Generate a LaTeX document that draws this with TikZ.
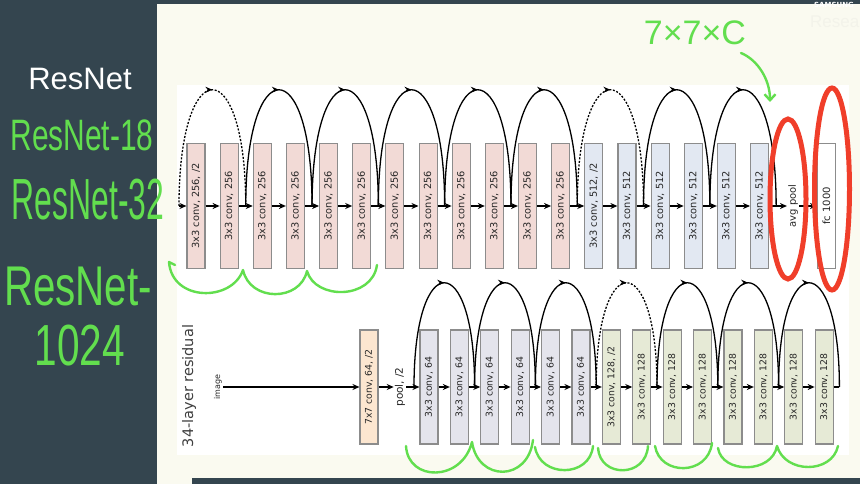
\documentclass[tikz,border=0pt]{standalone}
\usepackage{fontspec}
\setmainfont{DejaVu Sans}
\newfontfamily\arialfont{Liberation Sans}
\usepackage{graphicx}
\usetikzlibrary{arrows.meta,decorations.markings,positioning}

\definecolor{slate}{RGB}{52,69,79}
\definecolor{cream}{RGB}{250,250,240}
\definecolor{faint}{RGB}{243,243,234}
\definecolor{pinkbox}{RGB}{242,218,214}
\definecolor{bluebox}{RGB}{226,232,242}
\definecolor{greybox}{RGB}{228,228,236}
\definecolor{olivebox}{RGB}{230,234,214}
\definecolor{peachbox}{RGB}{252,230,208}
\definecolor{boxline}{RGB}{140,140,140}
\definecolor{handgreen}{RGB}{98,222,78}
\definecolor{marker}{RGB}{240,62,42}

\tikzset{
  layer/.style={draw=boxline,line width=1.1pt,minimum width=18pt,minimum height=125pt,inner sep=0pt,
    font=\fontsize{9.8}{10}\selectfont,text=black!85},
  lowlayer/.style={layer,minimum height=114pt,font=\fontsize{9.3}{10}\selectfont},
  tag/.style={inner sep=1pt,text=black!85},
  flow/.style={line width=1.4pt,-{Stealth[length=7pt,width=6pt]}},
  identity/.style={line width=1.3pt,postaction={decorate},
    decoration={markings,mark=at position 0.5 with {\arrow{Stealth[length=7pt,width=6pt]}}}},
  projection/.style={identity,dash pattern=on 2pt off 1.6pt},
  hand/.style={draw=handgreen,line width=2.4pt,line cap=round,line join=round},
  handtext/.style={text=handgreen,inner sep=0pt},
  ring/.style={draw=marker,line width=5pt}
}

\begin{document}
\begin{tikzpicture}[x=1pt,y=-1pt]
\useasboundingbox (0,0) rectangle (860,484);
\clip (0,0) rectangle (860,484);
\fill[slate] (0,0) rectangle (860,484);
\fill[cream] (157,4) rectangle (860,484);
\fill[slate] (192,478) rectangle (860,484);
\fill[white] (177,85) rectangle (849,455);

% left panel
\node[text=white,font=\arialfont\fontsize{31}{31}\selectfont] (title) at (80,79) {ResNet};
\node[handtext,font=\arialfont\fontsize{44}{44}\selectfont,xscale=0.68] (r18) at (82,135) {ResNet-18};
\node[handtext,font=\arialfont\fontsize{58}{58}\selectfont,xscale=0.55] (r32) at (88,200) {ResNet-32};
\node[handtext,font=\arialfont\fontsize{56}{56}\selectfont,xscale=0.72] (r1k) at (78,287) {ResNet-};
\node[handtext,font=\arialfont\fontsize{58}{58}\selectfont,xscale=0.7] (r1kb) at (80,346) {1024};

\node[text=white,font=\bfseries\fontsize{7}{7}\selectfont,inner sep=0pt] (brand) at (834,5) {SAMSUNG};
\node[text=faint,font=\arialfont\fontsize{17}{17}\selectfont,anchor=west,inner sep=0pt] (lab) at (810,22) {Resea};

% top row
\foreach \i in {1,...,18}{
  \ifnum\i<13 \def\col{pinkbox}\def\ch{256}\else\def\col{bluebox}\def\ch{512}\fi
  \ifnum\i=1 \def\sfx{, /2}\else\ifnum\i=13 \def\sfx{, /2}\else\def\sfx{}\fi\fi
  \node[layer,fill=\col] (t\i) at ({196+33.15*(\i-1)},206) {\rotatebox{90}{3x3 conv, \ch\sfx}};
  \coordinate (tj\i) at ({212.6+33.15*(\i-1)},206);
}
\coordinate (tj0) at (179,206);
\node[tag,font=\fontsize{10}{10}\selectfont] (avgpool) at (793,206) {\rotatebox{90}{avg pool}};
\node[layer,fill=white,font=\fontsize{10}{10}\selectfont] (fc) at (826.5,206) {\rotatebox{90}{fc 1000}};

\draw[flow] (tj0) -- (t1);
\foreach \i [evaluate=\i as \n using int(\i+1)] in {1,...,17} \draw[flow] (t\i) -- (t\n);
\draw[flow] (t18) -- (avgpool);
\draw[flow] (avgpool) -- (fc);
\foreach \a/\b/\kind in {0/2/projection,2/4/identity,4/6/identity,6/8/identity,8/10/identity,
    10/12/identity,12/14/projection,14/16/identity,16/18/identity}
  \draw[\kind] (tj\a) .. controls +(0,-155) and +(0,-155) .. (tj\b);

% bottom row
\node[tag,font=\fontsize{14.5}{15}\selectfont,text=black!75] (net) at (189,386) {\rotatebox{90}{34-layer residual}};
\node[tag,font=\fontsize{8}{8}\selectfont] (image) at (218,387) {\rotatebox{90}{image}};
\node[lowlayer,fill=peachbox] (conv1) at (369,387) {\rotatebox{90}{7x7 conv, 64, /2}};
\node[tag,font=\fontsize{10.5}{11}\selectfont] (pool1) at (400,387) {\rotatebox{90}{pool, /2}};
\foreach \i in {1,...,14}{
  \ifnum\i<7 \def\col{greybox}\def\ch{64}\else\def\col{olivebox}\def\ch{128}\fi
  \ifnum\i=7 \def\sfx{, /2}\else\def\sfx{}\fi
  \node[lowlayer,fill=\col] (b\i) at ({429+30.4*(\i-1)},387) {\rotatebox{90}{3x3 conv, \ch\sfx}};
  \coordinate (bj\i) at ({444.2+30.4*(\i-1)},387);
}
\coordinate (bj0) at (414,387);

\draw[flow] (image) -- (conv1);
\draw[flow] (conv1) -- (pool1);
\draw[flow] (pool1) -- (b1);
\foreach \i [evaluate=\i as \n using int(\i+1)] in {1,...,13} \draw[flow] (b\i) -- (b\n);
\draw[line width=1.4pt] (b14) -- (bj14);
\foreach \a/\b/\kind in {0/2/identity,2/4/identity,4/6/identity,6/8/projection,8/10/identity,
    10/12/identity,12/14/identity}
  \draw[\kind] (bj\a) .. controls +(0,-139) and +(0,-139) .. (bj\b);

% marks
\draw[hand] (175,265) -- (169,262) .. controls (172,302) and (232,302) .. (243,270)
  .. controls (250,302) and (300,302) .. (307,271) .. controls (315,300) and (372,300) .. (377,265);
\draw[hand] (406,446) .. controls (408,482) and (462,482) .. (472,442)
  .. controls (478,482) and (528,482) .. (533,440);
\draw[hand] (535,447) .. controls (540,478) and (590,478) .. (593,446);
\draw[hand] (598,448) .. controls (600,478) and (646,478) .. (648,446);
\draw[hand] (655,446) .. controls (660,476) and (708,476) .. (712,443);
\draw[hand] (718,448) .. controls (722,474) and (772,474) .. (777,446)
  .. controls (785,474) and (832,474) .. (838,446);

\node[handtext,font=\arialfont\fontsize{34}{34}\selectfont] (dims) at (695,33) {7×7×C};
\draw[hand,-{Straight Barb[length=6pt,width=11pt]}] (741,53) .. controls (758,60) and (770,80) .. (770,102);

\draw[ring] (788,199) ellipse [x radius=18pt, y radius=80pt];
\draw[ring] (832,189) ellipse [x radius=17.5pt, y radius=101pt];
\end{tikzpicture}
\end{document}
